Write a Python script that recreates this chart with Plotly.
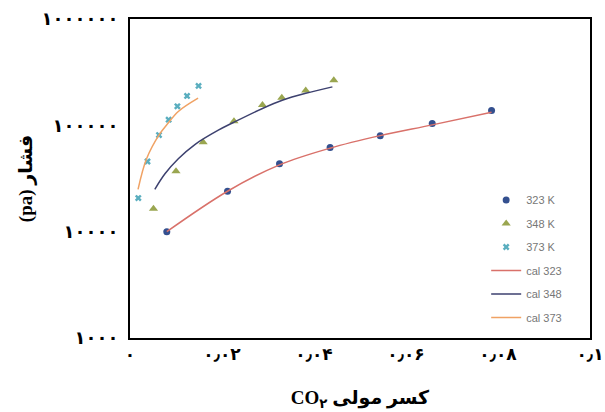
import plotly.graph_objects as go

# ---- data ----
x_323 = [0.0080, 0.0212, 0.0325, 0.0435, 0.0544, 0.0657, 0.0786]
y_323 = [10000, 24000, 43500, 62000, 80000, 104000, 138000]

x_348 = [0.0051, 0.0100, 0.0159, 0.0226, 0.0288, 0.0330, 0.0382, 0.0443]
y_348 = [16400, 37000, 69500, 109000, 155000, 182000, 213000, 265000]

x_373 = [0.0018, 0.0038, 0.0063, 0.0084, 0.0103, 0.0124, 0.0149]
y_373 = [20700, 45700, 81000, 113000, 151000, 189000, 235000]

xc_323 = [0.0080, 0.0212, 0.0325, 0.0435, 0.0544, 0.0657, 0.0786]
yc_323 = [10000, 24000, 42500, 61000, 80000, 101000, 133000]

xc_348 = [0.0054, 0.0076, 0.0105, 0.0141, 0.0192, 0.0226, 0.0288, 0.0331, 0.0382, 0.0440]
yc_348 = [25000, 35000, 48500, 66000, 90000, 107000, 144000, 172000, 200000, 230000]

xc_373 = [0.00175, 0.0036, 0.0065, 0.0083, 0.0105, 0.0148]
yc_373 = [25000, 48500, 83500, 105000, 135000, 180000]

x_tickvals = [0, 0.02, 0.04, 0.06, 0.08, 0.1]
x_ticktext = ["۰", "۰٫۰۲", "۰٫۰۴", "۰٫۰۶", "۰٫۰۸", "۰٫۱"]
y_tickvals = [1000, 10000, 100000, 1000000]
y_ticktext = ["۱۰۰۰", "۱۰۰۰۰", "۱۰۰۰۰۰", "۱۰۰۰۰۰۰"]

names = ["323 K", "348 K", "373 K", "cal 323", "cal 348", "cal 373"]

fig = go.Figure()
fig.add_trace(go.Scatter(x=x_323, y=y_323, mode="markers", name=names[0], legendgroup="a",
                         marker=dict(symbol="circle", size=7, color="#34508f")))
fig.add_trace(go.Scatter(x=x_348, y=y_348, mode="markers", name=names[1], legendgroup="b",
                         marker=dict(symbol="triangle-up", size=8, color="#9aa650")))
fig.add_trace(go.Scatter(x=x_373, y=y_373, mode="markers", name=names[2], legendgroup="c",
                         marker=dict(symbol="x", size=6, color="#5aaebf")))
fig.add_trace(go.Scatter(x=xc_323, y=yc_323, mode="lines", name=names[3], legendgroup="d",
                         line=dict(color="#d9716a", width=1.5, shape="spline")))
fig.add_trace(go.Scatter(x=xc_348, y=yc_348, mode="lines", name=names[4], legendgroup="e",
                         line=dict(color="#3d416f", width=1.5, shape="spline")))
fig.add_trace(go.Scatter(x=xc_373, y=yc_373, mode="lines", name=names[5], legendgroup="f",
                         line=dict(color="#f0a264", width=1.5, shape="spline")))

title_font = dict(family="Liberation Serif, DejaVu Sans", size=19, color="black")

fig.update_layout(
    width=605, height=412,
    margin=dict(l=130, r=15, t=19, b=74),
    paper_bgcolor="white", plot_bgcolor="white",
    showlegend=True,
    legend=dict(x=0.7743, y=0.478, xanchor="left", yanchor="top",
                font=dict(family="Liberation Sans", size=11, color="#777777"),
                bgcolor="rgba(0,0,0,0)", tracegroupgap=4.5, itemwidth=30),
    xaxis=dict(range=[0, 0.1], tickvals=x_tickvals, ticktext=x_ticktext,
               automargin=False,
               showgrid=False, zeroline=False, showline=True, linecolor="black",
               linewidth=2, mirror=True, ticks="",
               tickfont=dict(family="DejaVu Sans", size=17, color="black", weight="bold"),
               title=dict(text="<b>CO<sub>۲</sub> کسر مولی</b>", font=title_font, standoff=27)),
    yaxis=dict(type="log", range=[3, 6], tickvals=y_tickvals, ticktext=y_ticktext,
               automargin=False,
               showgrid=False, zeroline=False, showline=True, linecolor="black",
               linewidth=2, mirror=True, ticks="outside", ticklen=6,
               tickcolor="rgba(0,0,0,0)",
               tickfont=dict(family="DejaVu Sans", size=18, color="black", weight="bold"),
               title=dict(text="<b>(pa) فشار</b>", font=title_font, standoff=4)),
)

fig.write_html("out.html", post_script="document.body.style.margin='0px';",
               config={"displayModeBar": False})
